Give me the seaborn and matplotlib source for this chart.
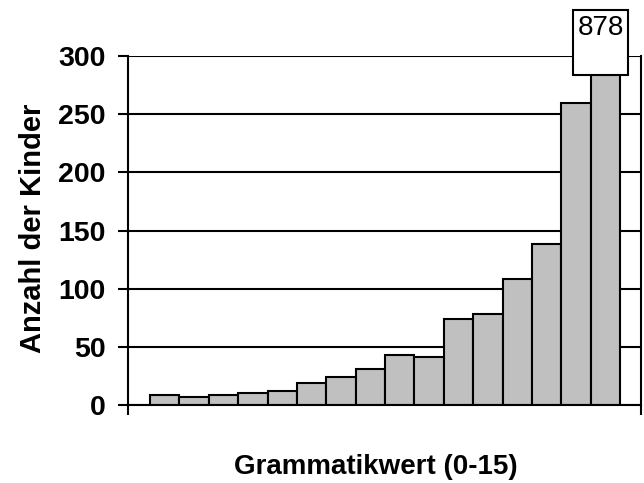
import matplotlib
matplotlib.use("Agg")
import matplotlib.pyplot as plt
import seaborn as sns
import pandas as pd
from matplotlib.patches import Rectangle

# Data
scores = list(range(16))
counts = [9, 7, 9, 10, 12, 19, 24, 31, 43, 41, 74, 78, 108, 138, 260, 878]
y_ticks = [0, 50, 100, 150, 200, 250, 300]
top_label = "878"
x_title = "Grammatikwert (0-15)"
y_title = "Anzahl der Kinder"

sns.set_theme(style="white")
plt.rcParams["font.family"] = ["Liberation Sans", "DejaVu Sans"]
for k in ["text.color", "axes.labelcolor", "xtick.color", "ytick.color"]:
    plt.rcParams[k] = "black"

df = pd.DataFrame({"score": scores, "count": counts})

W, H = 644, 483
fig = plt.figure(figsize=(W / 100, H / 100), dpi=100)
ax = fig.add_axes([128 / W, 1 - 405 / H, (641 - 128) / W, (405 - 56) / H])

sns.barplot(data=df, x="score", y="count", order=scores, color="#c0c0c0",
            saturation=1, width=1, edgecolor="black", linewidth=1.5, ax=ax)

ax.set_ylim(0, 300)
xl = (-1.25, 16.21)
ax.set_xlim(*xl)
ax.set_yticks(y_ticks)
ax.set_yticklabels([str(v) for v in y_ticks], fontsize=20.5, fontweight="bold")
ax.set_xticks(list(xl))
ax.set_xticklabels(["", ""])
ax.tick_params(axis="both", direction="out", length=7, width=1.5, color="black",
               left=True, bottom=True, pad=9)
ax.grid(axis="y", color="black", linewidth=1.5)
ax.grid(axis="x", visible=False)
ax.set_axisbelow(True)
for s in ["left", "right", "bottom"]:
    ax.spines[s].set_visible(True)
    ax.spines[s].set_color("black")
    ax.spines[s].set_linewidth(1.5)
ax.spines["top"].set_visible(False)

ax.set_xlabel(x_title, fontsize=20, fontweight="bold", labelpad=20)
ax.set_ylabel(y_title, fontsize=21, fontweight="bold", labelpad=12)
ax.xaxis.set_label_coords((376 - 128) / (641 - 128), -(467 - 405) / (405 - 56))
ax.yaxis.set_label_coords(-(128 - 33) / (641 - 128), (405 - 228) / (405 - 56))
ax.xaxis.label.set_va("center")
ax.yaxis.label.set_va("center")

# Label box for the clipped bar
box = Rectangle((573 / W, 1 - 75 / H), 55 / W, 65 / H, transform=fig.transFigure,
                facecolor="white", edgecolor="black", linewidth=1.5, zorder=5)
fig.patches.append(box)
fig.text(600.5 / W, 1 - 28 / H, top_label, ha="center", va="center",
         fontsize=20, zorder=6)

fig.savefig("out.png", dpi=100)
